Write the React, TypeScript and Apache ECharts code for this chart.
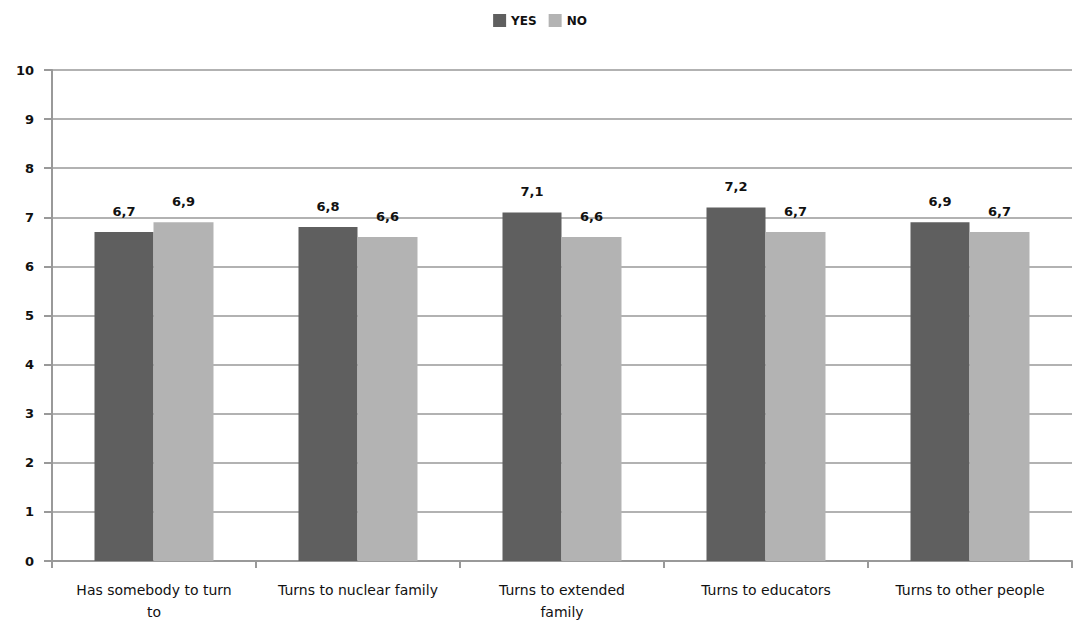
import React, { useEffect, useRef } from "react";
import * as echarts from "echarts";

const categories = [
  "Has somebody to turn\nto",
  "Turns to nuclear family",
  "Turns to extended\nfamily",
  "Turns to educators",
  "Turns to other people",
];
const yesValues = [6.7, 6.8, 7.1, 7.2, 6.9];
const noValues = [6.9, 6.6, 6.6, 6.7, 6.7];
const yTicks = [0, 1, 2, 3, 4, 5, 6, 7, 8, 9, 10];

const FONT = "'DejaVu Sans', 'Open Sans', sans-serif";

export default function App() {
  const ref = useRef<HTMLDivElement>(null);
  useEffect(() => {
    if (!ref.current) return;
    const chart = echarts.init(ref.current, undefined, { renderer: "svg" });
    const labelFmt = (p: any) => String(p.value).replace(".", ",");
    const dataLabel = {
      show: true,
      position: "top",
      distance: 14,
      formatter: labelFmt,
      color: "#111",
      fontSize: 13,
      fontWeight: "bold",
      fontFamily: FONT,
    };
    chart.setOption({
      animation: false,
      textStyle: { fontFamily: FONT },
      legend: {
        top: 9,
        left: "center",
        itemWidth: 13,
        itemHeight: 13,
        itemGap: 12,
        textStyle: { fontFamily: FONT, fontSize: 12, color: "#111", fontWeight: "bold" },
        data: [
          { name: "YES", icon: "rect" },
          { name: "NO", icon: "rect" },
        ],
      },
      grid: { left: 52, right: 8, top: 70, bottom: 64, containLabel: false, outerBoundsMode: "none" },
      xAxis: {
        type: "category",
        data: categories,
        axisLine: { lineStyle: { color: "#999", width: 2 } },
        axisTick: { show: true, alignWithLabel: false, length: 7, lineStyle: { color: "#999", width: 2 } },
        axisLabel: {
          interval: 0,
          color: "#111",
          fontSize: 14,
          fontFamily: FONT,
          margin: 18,
          lineHeight: 22,
        },
      },
      yAxis: {
        type: "value",
        min: yTicks[0],
        max: yTicks[yTicks.length - 1],
        interval: 1,
        axisLine: { show: true, lineStyle: { color: "#999", width: 2 } },
        axisTick: { show: true, length: 8, lineStyle: { color: "#999", width: 2 } },
        splitLine: { show: true, lineStyle: { color: "#999", width: 1.5 } },
        axisLabel: { color: "#111", fontSize: 13, fontFamily: FONT, fontWeight: "bold", margin: 18 },
      },
      series: [
        {
          name: "YES",
          type: "bar",
          data: yesValues,
          barWidth: 59,
          barGap: "0%",
          itemStyle: { color: "#5f5f5f" },
          label: dataLabel,
        },
        {
          name: "NO",
          type: "bar",
          data: noValues,
          barWidth: 60,
          barGap: "0%",
          itemStyle: { color: "#b3b3b3" },
          label: dataLabel,
        },
      ],
    });
    return () => chart.dispose();
  }, []);
  return (
    <div
      ref={ref}
      style={{ position: "fixed", left: 0, top: 0, width: 1080, height: 625, background: "#fff" }}
    />
  );
}
